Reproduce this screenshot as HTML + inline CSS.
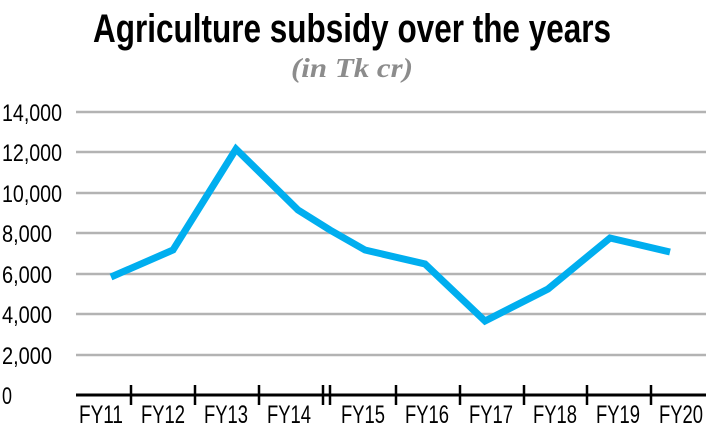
<!DOCTYPE html>
<html><head><meta charset="utf-8"><style>
html,body{margin:0;padding:0;background:#fff;width:706px;height:442px;overflow:hidden}
</style></head><body>
<svg width="706" height="442" viewBox="0 0 706 442" xmlns="http://www.w3.org/2000/svg">
<text x="352" y="42" text-anchor="middle" font-family="Liberation Sans Narrow, Liberation Sans, sans-serif" font-weight="bold" font-size="40" fill="#000" textLength="518" lengthAdjust="spacingAndGlyphs">Agriculture subsidy over the years</text>
<text x="352" y="77" text-anchor="middle" font-family="Liberation Serif, serif" font-style="italic" font-weight="bold" font-size="27" fill="#8c8c8c" textLength="122" lengthAdjust="spacingAndGlyphs">(in Tk cr)</text>
<g stroke="#b3b3b3" stroke-width="2.5">
<line x1="76" x2="706" y1="112" y2="112"/><line x1="76" x2="706" y1="152" y2="152"/>
<line x1="76" x2="706" y1="193" y2="193"/><line x1="76" x2="706" y1="233" y2="233"/>
<line x1="76" x2="706" y1="274" y2="274"/><line x1="76" x2="706" y1="314" y2="314"/>
<line x1="76" x2="706" y1="355" y2="355"/>
</g>
<g font-family="Liberation Sans Narrow, Liberation Sans, sans-serif" font-size="24" fill="#000">
<text x="2" y="121" textLength="60" lengthAdjust="spacingAndGlyphs">14,000</text>
<text x="2" y="161" textLength="60" lengthAdjust="spacingAndGlyphs">12,000</text>
<text x="2" y="202" textLength="60" lengthAdjust="spacingAndGlyphs">10,000</text>
<text x="2" y="242" textLength="50" lengthAdjust="spacingAndGlyphs">8,000</text>
<text x="2" y="283" textLength="50" lengthAdjust="spacingAndGlyphs">6,000</text>
<text x="2" y="323" textLength="50" lengthAdjust="spacingAndGlyphs">4,000</text>
<text x="2" y="364" textLength="50" lengthAdjust="spacingAndGlyphs">2,000</text>
<text x="2" y="404" textLength="10" lengthAdjust="spacingAndGlyphs">0</text>
</g>
<line x1="76" x2="706" y1="395" y2="395" stroke="#000" stroke-width="3"/>
<g stroke="#000" stroke-width="2.5">
<line x1="131" x2="131" y1="385" y2="405"/><line x1="195" x2="195" y1="385" y2="405"/>
<line x1="259" x2="259" y1="385" y2="405"/><line x1="323" x2="323" y1="385" y2="405"/>
<line x1="330" x2="330" y1="385" y2="405"/><line x1="396" x2="396" y1="385" y2="405"/>
<line x1="460" x2="460" y1="385" y2="405"/><line x1="524" x2="524" y1="385" y2="405"/>
<line x1="587" x2="587" y1="385" y2="405"/><line x1="651" x2="651" y1="385" y2="405"/>
</g>
<g font-family="Liberation Sans Narrow, Liberation Sans, sans-serif" font-size="25" fill="#000" text-anchor="middle">
<text x="101" y="423" textLength="44" lengthAdjust="spacingAndGlyphs">FY11</text>
<text x="163" y="423" textLength="44" lengthAdjust="spacingAndGlyphs">FY12</text>
<text x="226" y="423" textLength="44" lengthAdjust="spacingAndGlyphs">FY13</text>
<text x="289" y="423" textLength="44" lengthAdjust="spacingAndGlyphs">FY14</text>
<text x="363" y="423" textLength="44" lengthAdjust="spacingAndGlyphs">FY15</text>
<text x="427" y="423" textLength="44" lengthAdjust="spacingAndGlyphs">FY16</text>
<text x="491" y="423" textLength="44" lengthAdjust="spacingAndGlyphs">FY17</text>
<text x="555" y="423" textLength="44" lengthAdjust="spacingAndGlyphs">FY18</text>
<text x="618" y="423" textLength="44" lengthAdjust="spacingAndGlyphs">FY19</text>
<text x="681" y="423" textLength="44" lengthAdjust="spacingAndGlyphs">FY20</text>
</g>
<polyline fill="none" stroke="#00aeef" stroke-width="7" stroke-linejoin="miter" points="111,277 173,250 236,149 298,210 330,230 365,250 425,264 485,321 548,289 610,238 670,252"/>
</svg>
</body></html>
